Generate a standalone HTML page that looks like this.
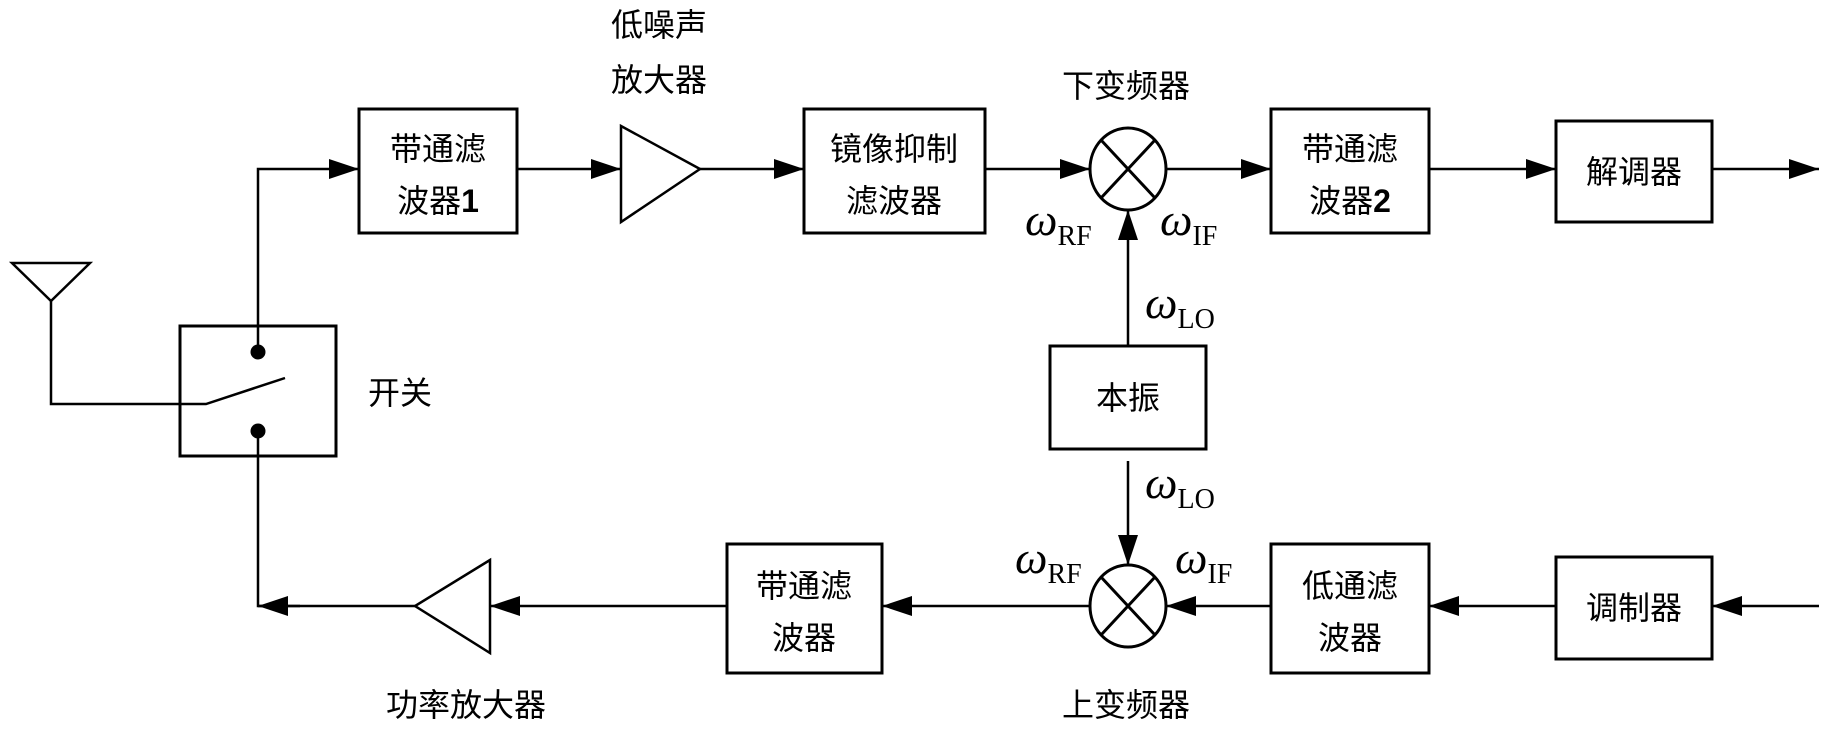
<!DOCTYPE html>
<html><head><meta charset="utf-8"><style>
html,body{margin:0;padding:0;background:#fff}
svg text{font-family:"Liberation Sans","Noto Sans CJK SC",sans-serif;fill:#000}
.w{font-family:"Liberation Serif","DejaVu Serif",serif;font-style:italic}
.s{font-family:"Liberation Serif",serif;font-style:normal}
</style></head><body>
<svg width="1828" height="734" viewBox="0 0 1828 734" xmlns="http://www.w3.org/2000/svg">
<defs>
<marker id="a" viewBox="0 0 30 20" refX="30" refY="10" markerWidth="30" markerHeight="20" markerUnits="userSpaceOnUse" orient="auto"><path d="M0,0L30,10L0,20z" fill="#000"/></marker>
</defs>
<g fill="none" stroke="#000" stroke-width="3">
<rect x="359" y="109" width="158" height="124"/>
<rect x="804" y="109" width="181" height="124"/>
<rect x="1271" y="109" width="158" height="124"/>
<rect x="1556" y="121" width="156" height="101"/>
<rect x="1050" y="346" width="156" height="103"/>
<rect x="727" y="544" width="155" height="129"/>
<rect x="1271" y="544" width="158" height="129"/>
<rect x="1556" y="557" width="156" height="102"/>
<rect x="180" y="326" width="156" height="130"/>
<ellipse cx="1128" cy="169" rx="38" ry="41"/>
<path d="M1101,140L1155,198M1155,140L1101,198"/>
<ellipse cx="1128" cy="606" rx="38" ry="41"/>
<path d="M1101,577L1155,635M1155,577L1101,635"/>
</g>
<g fill="none" stroke="#000" stroke-width="2.5">
<path d="M621,126L700,169L621,222Z"/>
<path d="M490,560L415,606L490,653Z"/>
<path d="M12,263L90,263L51,301Z"/>
<path d="M51,301L51,404L206,404L285,378"/>
<path d="M258,352L258,169L359,169" marker-end="url(#a)"/>
<path d="M517,169L621,169" marker-end="url(#a)"/>
<path d="M700,169L804,169" marker-end="url(#a)"/>
<path d="M985,169L1090,169" marker-end="url(#a)"/>
<path d="M1166,169L1271,169" marker-end="url(#a)"/>
<path d="M1429,169L1556,169" marker-end="url(#a)"/>
<path d="M1712,169L1819,169" marker-end="url(#a)"/>
<path d="M1128,346L1128,210" marker-end="url(#a)"/>
<path d="M1128,461L1128,565" marker-end="url(#a)"/>
<path d="M1819,606L1712,606" marker-end="url(#a)"/>
<path d="M1556,606L1429,606" marker-end="url(#a)"/>
<path d="M1271,606L1166,606" marker-end="url(#a)"/>
<path d="M1090,606L882,606" marker-end="url(#a)"/>
<path d="M727,606L490,606" marker-end="url(#a)"/>
<path d="M415,606L258,606L258,431"/>
<path d="M300,606L258,606" marker-end="url(#a)"/>
</g>
<circle cx="258" cy="352" r="7.5" fill="#000"/>
<circle cx="258" cy="431" r="7.5" fill="#000"/>
<g font-size="32" text-anchor="middle">
<text x="438" y="160">带通滤</text><text x="438" y="212">波器<tspan font-weight="bold">1</tspan></text>
<text x="894" y="160">镜像抑制</text><text x="894" y="212">滤波器</text>
<text x="1350" y="160">带通滤</text><text x="1350" y="212">波器<tspan font-weight="bold">2</tspan></text>
<text x="1634" y="183">解调器</text>
<text x="1128" y="409">本振</text>
<text x="804" y="597">带通滤</text><text x="804" y="649">波器</text>
<text x="1350" y="597">低通滤</text><text x="1350" y="649">波器</text>
<text x="1634" y="619">调制器</text>
<text x="659" y="36">低噪声</text><text x="659" y="91">放大器</text>
<text x="1126" y="97">下变频器</text>
<text x="400" y="404">开关</text>
<text x="466" y="716">功率放大器</text>
<text x="1126" y="716">上变频器</text>
</g>
<g font-size="46">
<text class="w" x="1025" y="235">ω<tspan class="s" font-size="28" dy="10">RF</tspan></text>
<text class="w" x="1160" y="235">ω<tspan class="s" font-size="28" dy="10">IF</tspan></text>
<text class="w" x="1145" y="318">ω<tspan class="s" font-size="28" dy="10">LO</tspan></text>
<text class="w" x="1145" y="498">ω<tspan class="s" font-size="28" dy="10">LO</tspan></text>
<text class="w" x="1015" y="573">ω<tspan class="s" font-size="28" dy="10">RF</tspan></text>
<text class="w" x="1175" y="573">ω<tspan class="s" font-size="28" dy="10">IF</tspan></text>
</g>
</svg>
</body></html>
